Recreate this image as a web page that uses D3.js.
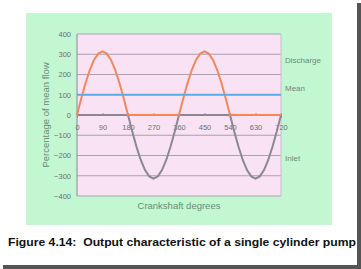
<!DOCTYPE html>
<html>
<head>
<meta charset="utf-8">
<script src="https://cdnjs.cloudflare.com/ajax/libs/d3/7.8.5/d3.min.js"></script>
<style>
  body { margin: 0; background: #fff; }
  svg { display: block; }
</style>
</head>
<body>
<div id="vis"></div>
<script>

const FRAME_WIDTH = 361;
const FRAME_HEIGHT = 269;
const MARGINS = {left: 77, right: 80, top: 34, bottom: 73};

// crankshaft angle, one reading every 15 degrees
const degrees = d3.range(0, 721, 15);

// (percent of mean flow)
const discharge = [0, 81, 157, 222, 272, 303, 314, 303, 272, 222, 157, 81, 0,
                   0, 0, 0, 0, 0, 0, 0, 0, 0, 0, 0, 0,
                   81, 157, 222, 272, 303, 314, 303, 272, 222, 157, 81, 0,
                   0, 0, 0, 0, 0, 0, 0, 0, 0, 0, 0, 0];
const inlet = [0, 0, 0, 0, 0, 0, 0, 0, 0, 0, 0, 0, 0,
               -81, -157, -222, -272, -303, -314, -303, -272, -222, -157, -81, 0,
               0, 0, 0, 0, 0, 0, 0, 0, 0, 0, 0, 0,
               -81, -157, -222, -272, -303, -314, -303, -272, -222, -157, -81, 0];
const mean = [100, 100];
const meanDegrees = [0, 720];

const xTicks = [0, 90, 180, 270, 360, 450, 540, 630, 720];
const yTicks = [400, 300, 200, 100, 0, -100, -200, -300, -400];

const seriesLabels = [
  {name: "Discharge", value: 270},
  {name: "Mean", value: 130},
  {name: "Inlet", value: -215}
];

const VIS_WIDTH = FRAME_WIDTH - MARGINS.left - MARGINS.right;
const VIS_HEIGHT = FRAME_HEIGHT - MARGINS.top - MARGINS.bottom;

const FRAME = d3.select("#vis")
                .append("svg")
                  .attr("width", FRAME_WIDTH)
                  .attr("height", FRAME_HEIGHT);

// card shadow on right and bottom
FRAME.append("rect")
     .attr("x", 357).attr("y", 3)
     .attr("width", 4).attr("height", 266)
     .attr("fill", "#555");
FRAME.append("rect")
     .attr("x", 3).attr("y", 265)
     .attr("width", 358).attr("height", 4)
     .attr("fill", "#555");
FRAME.append("rect")
     .attr("x", 0).attr("y", 0)
     .attr("width", 357).attr("height", 265)
     .attr("fill", "#fff");

// green chart area
FRAME.append("rect")
     .attr("x", 26).attr("y", 13)
     .attr("width", 306).attr("height", 212)
     .attr("fill", "#c2f7d2");

const X_SCALE = d3.scaleLinear()
                  .domain([0, 720])
                  .range([MARGINS.left, MARGINS.left + VIS_WIDTH]);

const Y_SCALE = d3.scaleLinear()
                  .domain([-400, 400])
                  .range([MARGINS.top + VIS_HEIGHT, MARGINS.top]);

// pink plot area
FRAME.append("rect")
     .attr("x", MARGINS.left).attr("y", MARGINS.top)
     .attr("width", VIS_WIDTH).attr("height", VIS_HEIGHT)
     .attr("fill", "#f8e2f3");

// gridlines
FRAME.selectAll(".grid")
     .data(yTicks)
     .enter()
     .append("line")
       .attr("x1", MARGINS.left)
       .attr("x2", MARGINS.left + VIS_WIDTH)
       .attr("y1", (d) => Y_SCALE(d))
       .attr("y2", (d) => Y_SCALE(d))
       .attr("stroke", "#a8a2ae")
       .attr("stroke-width", 1);

// plot border
FRAME.append("line")
     .attr("x1", MARGINS.left).attr("x2", MARGINS.left)
     .attr("y1", MARGINS.top).attr("y2", MARGINS.top + VIS_HEIGHT)
     .attr("stroke", "#9a98a0").attr("stroke-width", 1.2);
FRAME.append("line")
     .attr("x1", MARGINS.left + VIS_WIDTH).attr("x2", MARGINS.left + VIS_WIDTH)
     .attr("y1", MARGINS.top).attr("y2", MARGINS.top + VIS_HEIGHT)
     .attr("stroke", "#c8c0cc").attr("stroke-width", 1);

// y axis labels
const Y_AXIS = FRAME.append("g")
     .attr("transform", "translate(" + MARGINS.left + ",0)")
     .call(d3.axisLeft(Y_SCALE).tickValues(yTicks).tickSize(0).tickPadding(6));
Y_AXIS.select(".domain").remove();
Y_AXIS.selectAll("text")
      .attr("font-family", "Liberation Sans, Arial, sans-serif")
      .attr("font-size", "7.5px")
      .attr("fill", "#6f6f6f");

// x axis through zero
const X_AXIS = FRAME.append("g")
     .attr("transform", "translate(0," + Y_SCALE(0) + ")")
     .call(d3.axisBottom(X_SCALE).tickValues(xTicks).tickSize(3).tickPadding(7));
X_AXIS.select(".domain").attr("stroke", "#9a98a0");
X_AXIS.selectAll(".tick line").attr("stroke", "#9a98a0").attr("y1", -2).attr("y2", 0);
X_AXIS.selectAll("text")
      .attr("font-family", "Liberation Sans, Arial, sans-serif")
      .attr("font-size", "7.5px")
      .attr("fill", "#6f6f6f");

const line = d3.line()
               .x((d) => X_SCALE(d[0]))
               .y((d) => Y_SCALE(d[1]));

FRAME.append("path")
     .datum(d3.zip(degrees, inlet))
     .attr("d", line)
     .attr("fill", "none")
     .attr("stroke", "#8a8896")
     .attr("stroke-width", 2);

FRAME.append("path")
     .datum(d3.zip(degrees, discharge))
     .attr("d", line)
     .attr("fill", "none")
     .attr("stroke", "#f0885e")
     .attr("stroke-width", 2);

FRAME.append("path")
     .datum(d3.zip(meanDegrees, mean))
     .attr("d", line)
     .attr("fill", "none")
     .attr("stroke", "#58aee8")
     .attr("stroke-width", 2);

// series names at right
FRAME.selectAll(".slabel")
     .data(seriesLabels)
     .enter()
     .append("text")
       .attr("x", 285)
       .attr("y", (d) => Y_SCALE(d.value))
       .attr("dy", "0.35em")
       .attr("font-family", "Liberation Sans, Arial, sans-serif")
       .attr("font-size", "8px")
       .attr("fill", "#6e8a7a")
       .text((d) => d.name);

// axis titles
FRAME.append("text")
     .attr("x", (MARGINS.left + MARGINS.left + VIS_WIDTH) / 2)
     .attr("y", 209)
     .attr("text-anchor", "middle")
     .attr("font-family", "Liberation Sans, Arial, sans-serif")
     .attr("font-size", "9.5px")
     .attr("fill", "#6e8a7a")
     .text("Crankshaft degrees");

FRAME.append("text")
     .attr("transform", "translate(46," + Y_SCALE(0) + ") rotate(-90)")
     .attr("text-anchor", "middle")
     .attr("dy", "0.35em")
     .attr("font-family", "Liberation Sans, Arial, sans-serif")
     .attr("font-size", "9.5px")
     .attr("fill", "#6e8a7a")
     .text("Percentage of mean flow");

// caption
FRAME.append("text")
     .attr("x", 8)
     .attr("y", 246)
     .attr("font-family", "Liberation Sans, Arial, sans-serif")
     .attr("font-weight", "bold")
     .attr("font-size", "11px")
     .attr("fill", "#111")
     .attr("textLength", 348)
     .attr("lengthAdjust", "spacingAndGlyphs")
     .attr("xml:space", "preserve")
     .text("Figure 4.14:  Output characteristic of a single cylinder pump");

</script>
</body>
</html>
